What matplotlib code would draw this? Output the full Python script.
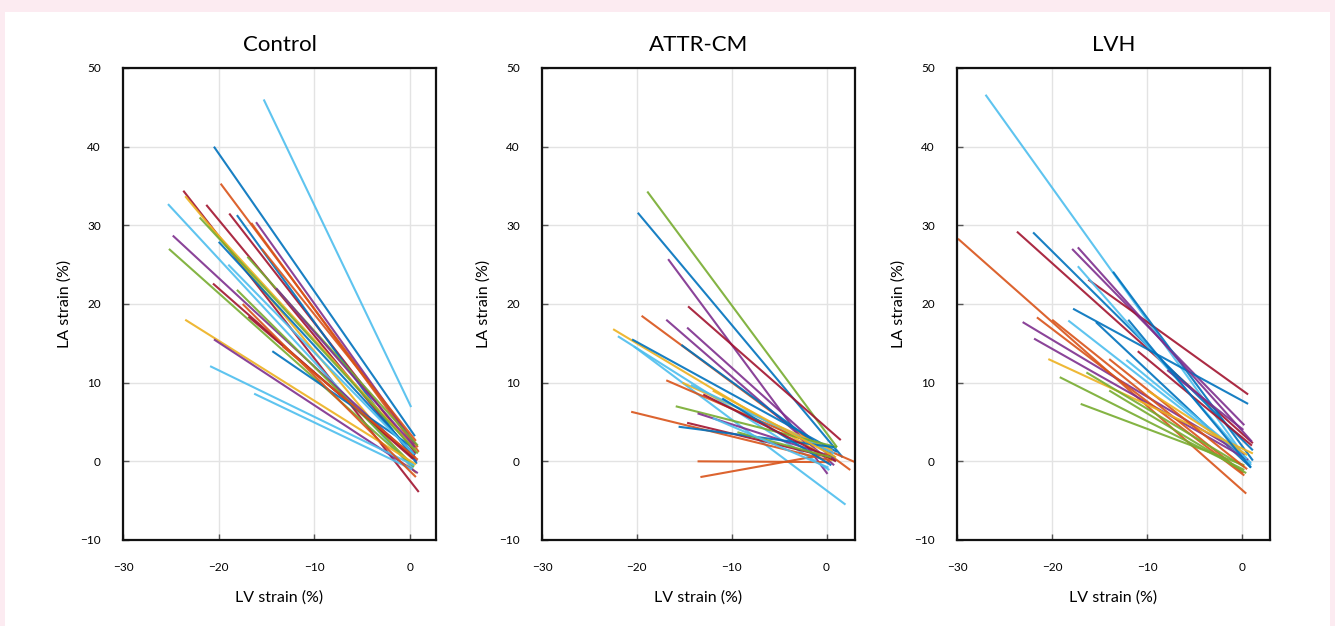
import matplotlib
matplotlib.use('Agg')
import matplotlib.pyplot as plt
from matplotlib.patches import Rectangle

# MATLAB-style line colours
BLUE = '#0072BD'
ORANGE = '#D95319'
YELLOW = '#EDB120'
PURPLE = '#7E2F8E'
GREEN = '#77AC30'
LBLUE = '#4DBEEE'
DRED = '#A2142F'

# each line: baseline (LV, LA) -> follow-up (LV, LA)
control_x1 = [-15.3, -20.5, -19.8, -23.7, -23.5, -25.3, -21.3, -24.8, -25.2, -18.9,
              -18.1, -16.6, -16.1, -20.0, -20.6, -18.1, -16.9, -23.5, -20.5, -14.4,
              -20.9, -16.3, -13.3, -21.0, -17.0, -15.5, -22.0, -19.0, -17.5, -14.0]
control_y1 = [46.0, 40.0, 35.3, 34.4, 33.7, 32.7, 32.6, 28.7, 27.0, 31.5,
              31.3, 30.3, 30.4, 27.9, 22.6, 21.8, 18.4, 18.0, 15.5, 14.0,
              12.1, 8.6, 14.6, 30.0, 26.0, 27.0, 31.0, 25.0, 20.0, 22.0]
control_x2 = [0.1, 0.5, 0.8, 0.9, 0.6, 0.3, 0.5, 0.7, 0.4, 0.6,
              0.7, 0.9, 0.5, 0.5, 0.3, 0.4, 0.5, 0.6, 0.8, 0.6,
              0.4, 0.2, 0.8, 0.6, 0.8, 0.6, 0.8, 0.4, 0.6, 0.5]
control_y2 = [6.9, 3.2, 1.8, -3.9, -1.5, -0.9, 0.5, 0.0, -0.7, 1.0,
              -0.3, 1.2, 2.2, 0.8, 0.3, -0.6, 0.4, -0.4, -1.5, 1.5,
              -0.5, -1.0, 0.2, 1.4, 2.0, 2.6, 1.0, 0.9, -2.0, 1.8]
control_c = [LBLUE, BLUE, ORANGE, DRED, YELLOW, LBLUE, DRED, PURPLE, GREEN, DRED,
             BLUE, ORANGE, PURPLE, BLUE, DRED, GREEN, DRED, YELLOW, PURPLE, BLUE,
             LBLUE, LBLUE, ORANGE, YELLOW, GREEN, ORANGE, GREEN, LBLUE, ORANGE, PURPLE]

attr_x1 = [-18.9, -19.9, -16.7, -14.6, -19.5, -16.9, -14.7, -22.5, -22.0, -20.5,
           -20.3, -15.3, -16.9, -15.2, -14.3, -15.9, -13.6, -20.6, -14.7, -15.6,
           -13.6, -13.3, -12.0, -11.0, -13.0, -9.4, -12.0]
attr_y1 = [34.3, 31.6, 25.7, 19.7, 18.5, 18.0, 17.0, 16.8, 15.9, 15.5,
           14.6, 14.8, 10.3, 10.0, 9.7, 7.0, 6.1, 6.3, 4.9, 4.4,
           0.0, -2.0, 9.0, 8.0, 8.5, 3.7, 5.5]
attr_x2 = [1.1, 1.7, 0.1, 1.5, 2.5, 0.8, 0.9, 0.6, 0.3, 1.1,
           2.0, 0.9, 3.0, 0.6, 0.8, 1.1, 0.1, 0.4, 0.4, 0.8,
           0.3, 0.5, 1.0, 0.5, 1.0, 0.5, 0.2]
attr_y2 = [1.8, 0.5, -1.6, 2.7, -1.1, -0.5, 0.1, 0.1, -1.1, 1.2,
           -5.5, 0.5, -0.1, 1.4, 1.0, 1.8, 0.8, 0.1, 0.5, 1.8,
           -0.1, 1.0, 0.5, -0.5, 0.0, 0.5, -0.8]
attr_c = [GREEN, BLUE, PURPLE, DRED, ORANGE, PURPLE, PURPLE, YELLOW, LBLUE, BLUE,
          LBLUE, BLUE, ORANGE, YELLOW, LBLUE, GREEN, PURPLE, ORANGE, DRED, BLUE,
          ORANGE, ORANGE, YELLOW, BLUE, DRED, GREEN, LBLUE]

lvh_x1 = [-27.0, -29.9, -23.7, -22.0, -17.9, -16.2, -17.3, -13.6, -17.8, -15.4,
          -18.3, -23.1, -21.9, -21.6, -20.0, -20.4, -19.2, -16.4, -17.0, -7.9,
          -12.2, -11.0, -14.0, -10.0, -14.0, -12.0, -17.3]
lvh_y1 = [46.6, 28.3, 29.2, 29.1, 27.0, 23.1, 24.8, 24.1, 19.4, 17.7,
          17.9, 17.7, 15.6, 18.3, 18.0, 13.0, 10.7, 11.3, 7.3, 11.6,
          12.9, 14.0, 13.0, 9.0, 9.0, 18.0, 27.2]
lvh_x2 = [0.9, 0.4, 1.1, 1.1, 0.2, 0.6, 0.9, 1.1, 0.6, 0.9,
          0.9, 0.2, 0.6, 0.2, 0.1, 1.1, 0.2, 0.2, 0.2, 0.1,
          0.5, 1.0, 0.5, 0.5, 0.4, 0.9, 1.0]
lvh_y2 = [-0.5, -4.1, 2.3, 1.4, 4.6, 8.5, -0.3, 0.1, 7.3, -0.8,
          -0.2, 0.8, 0.2, -1.8, -1.5, 1.0, -1.1, -0.7, -0.5, 4.0,
          0.3, 2.0, -1.0, 0.8, -1.5, -0.8, 2.5]
lvh_c = [LBLUE, ORANGE, DRED, BLUE, PURPLE, DRED, LBLUE, BLUE, BLUE, BLUE,
         LBLUE, PURPLE, PURPLE, ORANGE, ORANGE, YELLOW, GREEN, GREEN, GREEN, PURPLE,
         LBLUE, DRED, ORANGE, YELLOW, GREEN, BLUE, PURPLE]

panels = [
    ('Control', control_x1, control_y1, control_x2, control_y2, control_c, 2.7),
    ('ATTR-CM', attr_x1, attr_y1, attr_x2, attr_y2, attr_c, 3.0),
    ('LVH', lvh_x1, lvh_y1, lvh_x2, lvh_y2, lvh_c, 2.9),
]
lefts = [123, 542, 957]
xticks = [-30, -20, -10, 0]
yticks = [-10, 0, 10, 20, 30, 40, 50]

plt.rcParams['font.family'] = ['Lato', 'DejaVu Sans']

W, H = 1335, 626
fig = plt.figure(figsize=(W / 100, H / 100), dpi=100)
fig.patch.set_facecolor('#fcebf1')
# white card behind the panels
fig.patches.append(Rectangle((5 / W, 0), 1325 / W, 614 / H, transform=fig.transFigure,
                             facecolor='white', edgecolor='none', zorder=-10))

for (name, x1, y1, x2, y2, cols, xmax), left in zip(panels, lefts):
    ax = fig.add_axes([left / W, 86 / H, 313 / W, 472 / H])
    for a, b, c, d, col in zip(x1, y1, x2, y2, cols):
        ax.plot([a, c], [b, d], color=col, lw=1.5, alpha=0.9, solid_capstyle='butt')
    ax.set_xlim(-30, xmax)
    ax.set_ylim(-10, 50)
    ax.set_xticks(xticks)
    ax.set_yticks(yticks)
    ax.grid(True, color='#e3e3e3', lw=1)
    ax.set_axisbelow(True)
    for s in ax.spines.values():
        s.set_linewidth(1.6)
        s.set_color('#111111')
    ax.tick_params(direction='in', length=4, width=1, labelsize=8.5, color='#555555')
    ax.tick_params(axis='y', pad=16)
    ax.tick_params(axis='x', pad=16)
    ax.set_title(name, fontsize=16, pad=12)
    ax.set_xlabel('LV strain (%)', fontsize=11.5, labelpad=12)
    ax.set_ylabel('LA strain (%)', fontsize=11.5, labelpad=6)

fig.savefig('out.png', dpi=100, facecolor=fig.get_facecolor())
